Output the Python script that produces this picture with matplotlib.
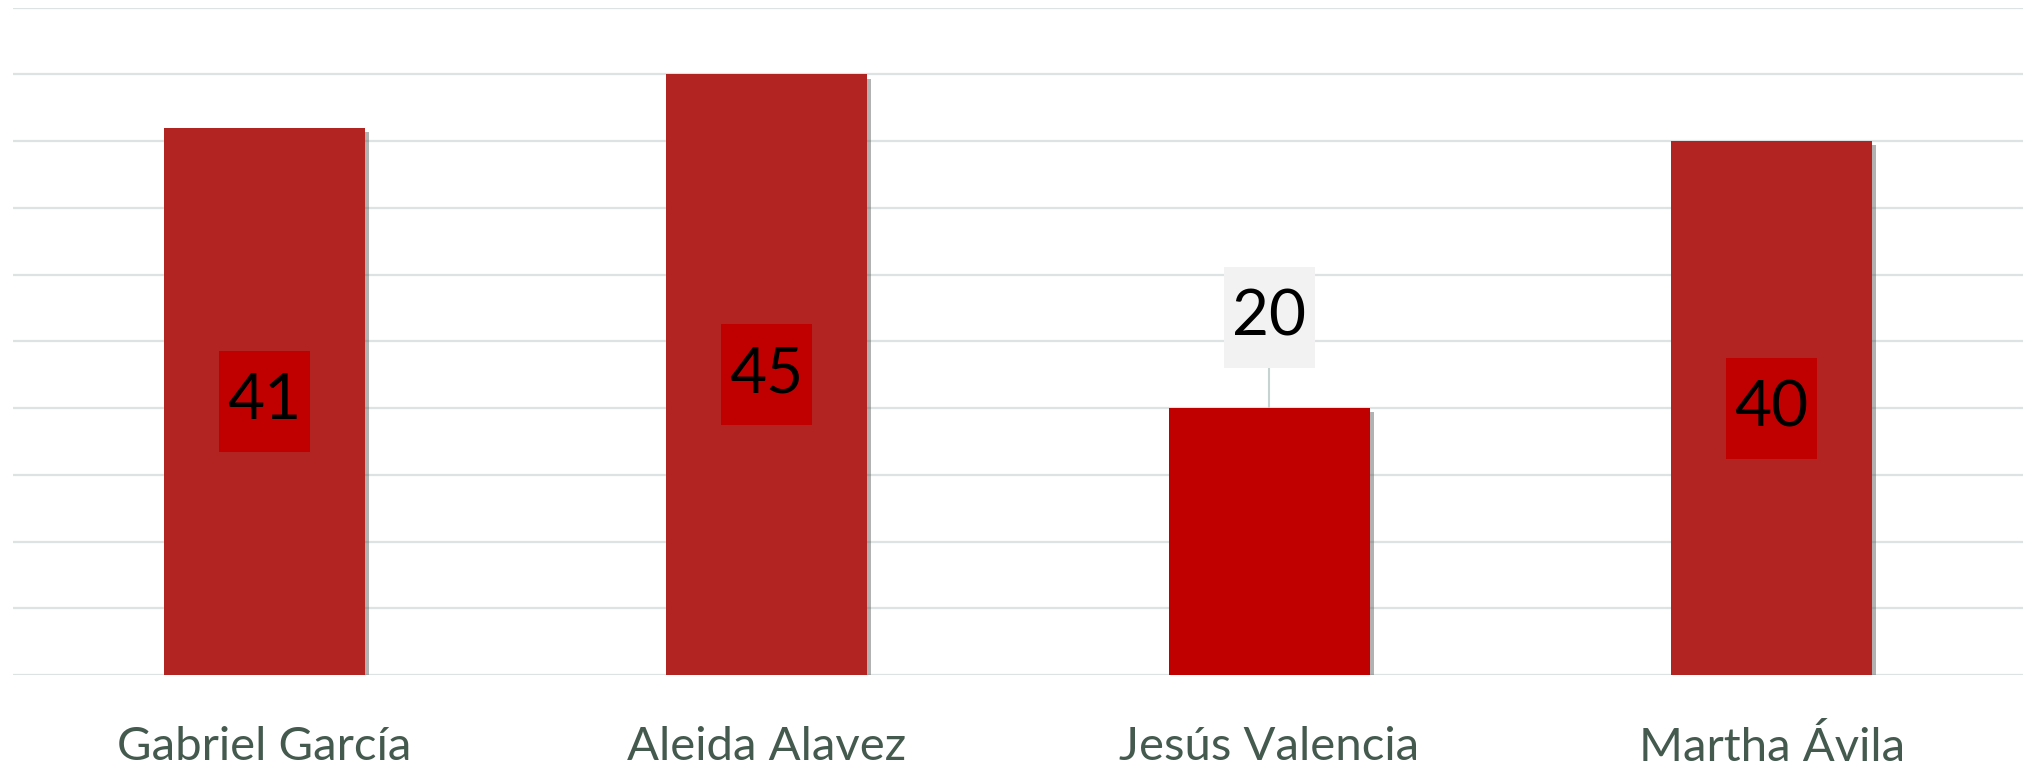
import numpy as np
import matplotlib.pyplot as plt
import matplotlib.patheffects as pe
from matplotlib.patches import Rectangle

names = ['Gabriel García', 'Aleida Alavez', 'Jesús Valencia', 'Martha Ávila']
votes = [41, 45, 20, 40]
bar_colors = ['#B22422', '#B22422', '#C00000', '#B22422']

plt.rcParams['font.family'] = ['Lato', 'DejaVu Sans']

fig = plt.figure(figsize=(20.23, 7.66), dpi=100)
ax = fig.add_axes([13 / 2023, 1 - 675 / 766, 1 - 13 / 2023, (675 - 7.7) / 766])

x = np.arange(len(names))
bars = ax.bar(x, votes, width=0.40, color=bar_colors, zorder=3)
for b in bars:
    b.set_path_effects([pe.SimplePatchShadow(offset=(3, -3), shadow_rgbFace='#555555', alpha=0.45),
                        pe.Normal()])

ax.set_xlim(-0.5, len(names) - 0.5)
ax.set_ylim(0, 50)
ax.set_yticks(np.arange(0, 51, 5))
ax.yaxis.grid(True, color='#DCE3E2', linewidth=1.6, zorder=0)
ax.set_axisbelow(True)
ax.tick_params(axis='y', left=False, labelleft=False)
ax.tick_params(axis='x', bottom=False, pad=33, labelsize=34, labelcolor='#445A4E')
ax.set_xticks(x)
ax.set_xticklabels(names)
for s in ax.spines.values():
    s.set_visible(False)

# label box size in data units (about 91 x 101 px)
bw, bh = 0.181, 7.57

# data labels: inside the bar when it is tall, above with a leader line otherwise
for xi, v in zip(x, votes):
    if v >= 30:
        cy, fc = v / 2, '#C00000'
    else:
        cy, fc = v + 6.8, '#F2F2F2'
        ax.plot([xi, xi], [v, cy - bh / 2], color='#C5D3D1', linewidth=1.5, zorder=2)
    ax.add_patch(Rectangle((xi - bw / 2, cy - bh / 2), bw, bh, fc=fc, ec='none', zorder=4))
    ax.text(xi, cy, str(v), ha='center', va='center', fontsize=46, color='black', zorder=5)

fig.savefig('out.png', dpi=100)
